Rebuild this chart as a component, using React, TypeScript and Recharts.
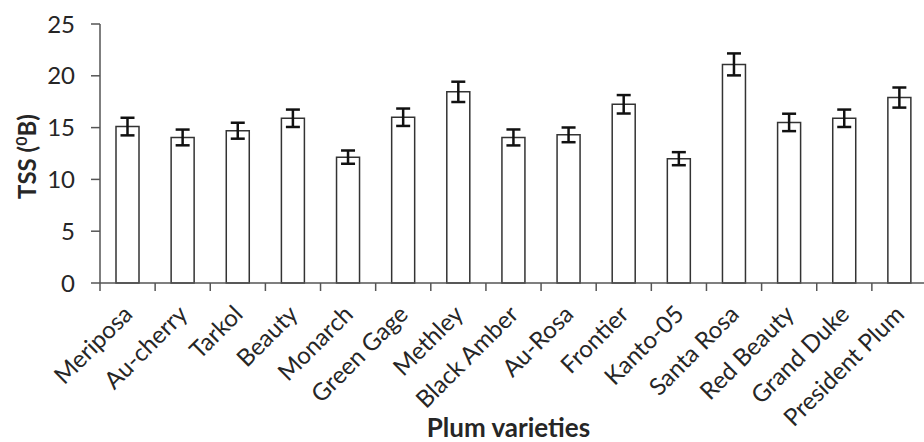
import React from "react";
import { BarChart, Bar, XAxis, YAxis, ErrorBar } from "recharts";

const varieties = [
  "Meriposa", "Au-cherry", "Tarkol", "Beauty", "Monarch", "Green Gage", "Methley",
  "Black Amber", "Au-Rosa", "Frontier", "Kanto-05", "Santa Rosa", "Red Beauty",
  "Grand Duke", "President Plum",
];
const tssValues = [15.1, 14.05, 14.7, 15.9, 12.15, 16.0, 18.45, 14.05, 14.3, 17.25, 12.0, 21.1, 15.5, 15.9, 17.9];
const tssErrors = [0.85, 0.76, 0.77, 0.84, 0.64, 0.84, 0.98, 0.77, 0.71, 0.89, 0.63, 1.06, 0.84, 0.84, 0.97];
const yTicks = [0, 5, 10, 15, 20, 25];

const data = varieties.map((name, i) => ({ name, tss: tssValues[i], se: tssErrors[i] }));

const FONT = "Lato, 'Open Sans', sans-serif";
const TEXT = "#262626";
const AXIS = "#555";

const CatTick = (props: any) => {
  const { x, y, payload } = props;
  const half = payload && typeof payload.offset === "number" ? payload.offset : 0;
  return (
    <g>
      <line x1={x - half} x2={x - half} y1={y - 8} y2={y} stroke={AXIS} strokeWidth={1.5} />
      <text
        x={x}
        y={y}
        dx={-13}
        dy={22}
        transform={`rotate(-45, ${x}, ${y})`}
        textAnchor="end"
        fontSize={24}
        fontFamily={FONT}
        fill={TEXT}
      >
        {payload.value}
      </text>
    </g>
  );
};

const XLabel = (props: any) => {
  const vb = props.viewBox || {};
  return (
    <text
      x={vb.x + vb.width / 2 - 5}
      y={vb.y + vb.height - 5}
      textAnchor="middle"
      fontSize={26}
      fontWeight="bold"
      fontFamily={FONT}
      fill={TEXT}
    >
      Plum varieties
    </text>
  );
};

const YLabel = (props: any) => {
  const vb = props.viewBox || {};
  const cx = 36;
  const cy = vb.y + vb.height / 2 + 3;
  return (
    <text
      x={cx}
      y={cy}
      transform={`rotate(-90, ${cx}, ${cy})`}
      textAnchor="middle"
      fontSize={24}
      fontWeight="bold"
      fontFamily={FONT}
      fill={TEXT}
    >
      TSS (
      <tspan dy={-9} fontSize={16}>0</tspan>
      <tspan dy={9}>B)</tspan>
    </text>
  );
};

export default function App() {
  return (
    <div style={{ position: "absolute", left: 0, top: 0, width: 924, height: 442, overflow: "hidden", background: "#fff" }}>
      <BarChart width={930} height={442} data={data} margin={{ top: 24, right: 3, bottom: 0, left: 0 }}>
        <XAxis
          dataKey="name"
          interval={0}
          tickLine={false}
          tickSize={8}
          tickMargin={0}
          height={159}
          axisLine={{ stroke: AXIS, strokeWidth: 1.5 }}
          tick={<CatTick />}
          label={<XLabel />}
        />
        <YAxis
          domain={[0, 25]}
          ticks={yTicks}
          width={100}
          tickSize={9}
          tickMargin={16}
          axisLine={{ stroke: AXIS, strokeWidth: 1.5 }}
          tickLine={{ stroke: AXIS, strokeWidth: 1.5 }}
          tick={{ fontSize: 24, fontFamily: FONT, fill: TEXT }}
          label={<YLabel />}
        />
        <Bar dataKey="tss" fill="#fff" stroke="#333" strokeWidth={1.5} barSize={23} isAnimationActive={false}>
          <ErrorBar dataKey="se" width={7} strokeWidth={2.5} stroke="#111" />
        </Bar>
      </BarChart>
    </div>
  );
}
